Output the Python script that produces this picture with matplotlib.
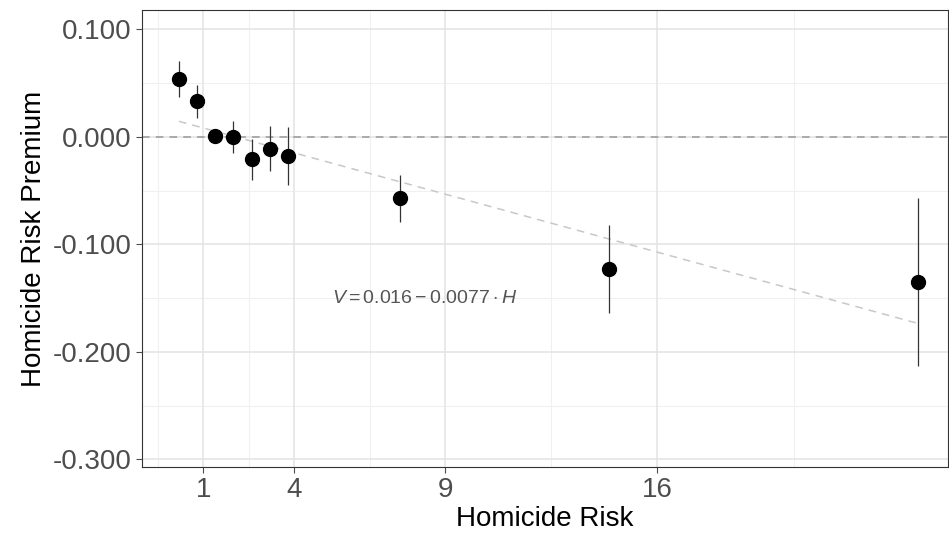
import matplotlib.pyplot as plt
import numpy as np

plt.rcParams['font.family'] = ['Liberation Sans', 'DejaVu Sans']
plt.rcParams['mathtext.fontset'] = 'custom'
plt.rcParams['mathtext.rm'] = 'Liberation Sans'
plt.rcParams['mathtext.it'] = 'Liberation Sans:italic'

risk = [0.2, 0.8, 1.4, 2.0, 2.6, 3.2, 3.8, 7.5, 14.4, 24.6]
premium = [0.054, 0.033, 0.001, 0.000, -0.021, -0.011, -0.018, -0.057, -0.123, -0.135]
err = [0.017, 0.015, 0.005, 0.015, 0.019, 0.021, 0.027, 0.022, 0.041, 0.078]
intercept, slope = 0.016, -0.0077

fig = plt.figure(figsize=(9.49, 5.39), dpi=100)
ax = fig.add_axes([142 / 949, 1 - 467 / 539, 806 / 949, 457 / 539])

for v in [-0.5, 2.5, 6.5, 12.5, 20.5]:
    ax.axvline(v, color='#f0f0f0', lw=0.8, zorder=0)
for v in [0.05, -0.05, -0.15, -0.25]:
    ax.axhline(v, color='#f0f0f0', lw=0.8, zorder=0)
ax.grid(True, color='#e3e3e3', lw=1.1, zorder=0)
ax.set_axisbelow(True)

ax.axhline(0, color='#999999', ls=(0, (5, 4)), lw=1.1)
xs = np.array([min(risk), max(risk)])
ax.plot(xs, intercept + slope * xs, color='#c8c8c8', ls=(0, (5, 4)), lw=1.1)
ax.errorbar(risk, premium, yerr=err, fmt='o', color='black', ms=10, elinewidth=0.9, ecolor='#333333')
ax.text(8.3, -0.15, r'$V = 0.016 - 0.0077 \cdot H$', fontsize=14, color='#555555', ha='center', va='center')

ax.set_xlim(-1.02, 25.6)
ax.set_ylim(-0.307, 0.118)
ax.set_xticks([1, 4, 9, 16])
ax.set_yticks([0.1, 0, -0.1, -0.2, -0.3])
ax.set_yticklabels(['0.100', '0.000', '-0.100', '-0.200', '-0.300'])
ax.tick_params(labelsize=20, colors='#4d4d4d', labelcolor='#4d4d4d', length=4)
for s in ax.spines.values():
    s.set_color('#333333')
ax.set_xlabel('Homicide Risk', fontsize=20, labelpad=2)
ax.set_ylabel('Homicide Risk Premium', fontsize=20, labelpad=4)
fig.savefig('out.png')
